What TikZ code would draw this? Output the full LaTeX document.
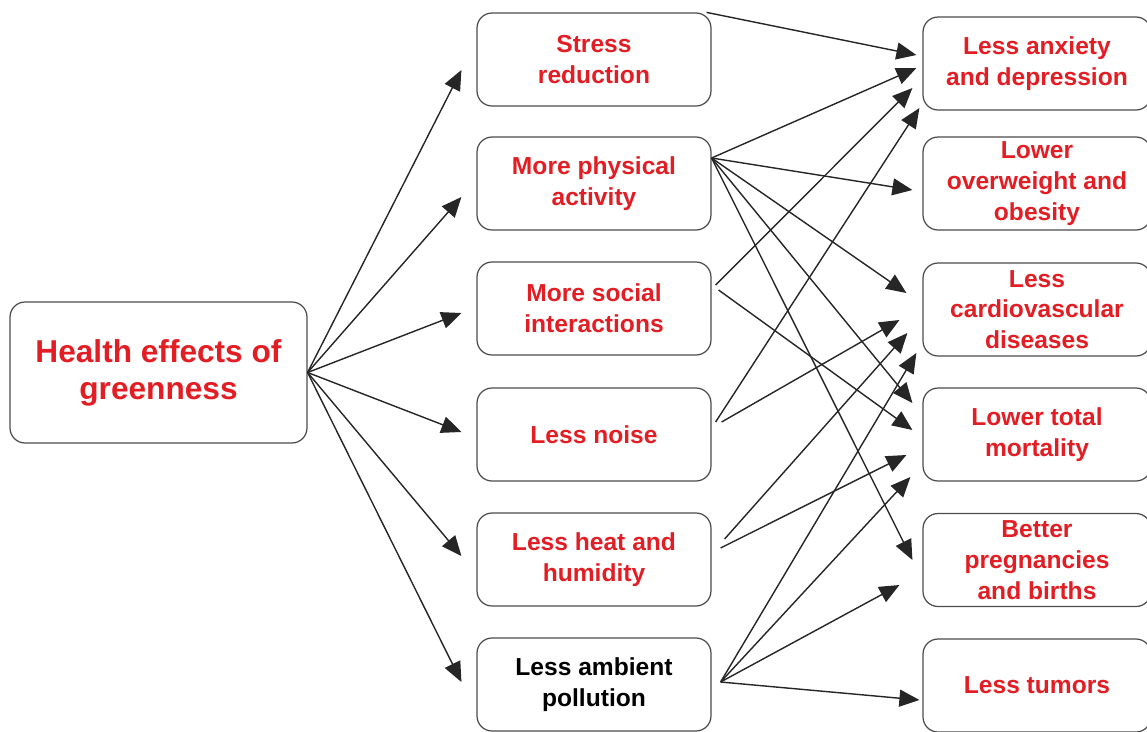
\documentclass[tikz,border=0pt]{standalone}
\usepackage{fontspec}
\setmainfont{Liberation Sans}
\usetikzlibrary{arrows.meta}
\definecolor{effectred}{RGB}{226,30,36}

\begin{document}
\begin{tikzpicture}[x=0.02cm,y=-0.02cm,
  box/.style={draw=black!70,line width=0.7pt,rounded corners=0.3cm,inner sep=0pt,align=center,font=\fontsize{14}{17.5}\selectfont\bfseries,text=effectred},
  mid/.style={box,minimum width=4.68cm,minimum height=1.86cm},
  res/.style={box,minimum width=4.56cm,minimum height=1.86cm},
  arr/.style={line width=0.8pt,draw=black!85,-{Triangle[length=0.4cm,width=0.34cm]}}]
\useasboundingbox (0,0) rectangle (1147,731);

\node[box,minimum width=5.94cm,minimum height=2.82cm,font=\fontsize{18}{21}\selectfont\bfseries] (green) at (158.5,372.5) {Health effects of\\greenness};

\node[mid] (stress) at (594,59.5) {Stress\\reduction};
\node[mid] (phys) at (594,183.5) {More physical\\activity};
\node[mid] (social) at (594,308.5) {More social\\interactions};
\node[mid] (noise) at (594,434.5) {Less noise};
\node[mid] (heat) at (594,559.5) {Less heat and\\humidity};
\node[mid,text=black] (pollution) at (594,684.5) {Less ambient\\pollution};

\node[res] (anxiety) at (1037,63.5) {Less anxiety\\and depression};
\node[res] (obesity) at (1037,183.5) {Lower\\overweight and\\obesity};
\node[res] (cardio) at (1037,309.5) {Less\\cardiovascular\\diseases};
\node[res] (mortality) at (1037,434.5) {Lower total\\mortality};
\node[res] (births) at (1037,560) {Better\\pregnancies\\and births};
\node[res] (tumors) at (1037,685.5) {Less tumors};

% greenness to the pathways
\draw[arr] (green.east) -- ([xshift=-0.3cm,yshift=-0.21cm]stress.west);
\draw[arr] (green.east) -- ([xshift=-0.3cm,yshift=-0.27cm]phys.west);
\draw[arr] (green.east) -- ([xshift=-0.3cm,yshift=-0.09cm]social.west);
\draw[arr] (green.east) -- ([xshift=-0.3cm,yshift=0.05cm]noise.west);
\draw[arr] (green.east) -- ([xshift=-0.3cm,yshift=0.07cm]heat.west);
\draw[arr] (green.east) -- ([xshift=-0.3cm,yshift=0.05cm]pollution.west);

% pathways to the outcomes
\draw[arr] ([xshift=-0.1cm]stress.north east) -- ([xshift=-0.12cm,yshift=0.17cm]anxiety.west);

\draw[arr] ([yshift=0.51cm]phys.east) -- ([xshift=-0.12cm,yshift=-0.09cm]anxiety.west);
\draw[arr] ([yshift=0.51cm]phys.east) -- ([xshift=-0.2cm,yshift=-0.13cm]obesity.west);
\draw[arr] ([yshift=0.51cm]phys.east) -- ([xshift=-0.32cm,yshift=0.33cm]cardio.west);
\draw[arr] ([yshift=0.51cm]phys.east) -- ([xshift=-0.2cm,yshift=0.63cm]mortality.west);
\draw[arr] ([yshift=0.51cm]phys.east) -- ([xshift=-0.2cm]births.west);

\draw[arr] ([xshift=0.08cm,yshift=0.47cm]social.east) -- ([xshift=-0.2cm,yshift=-0.49cm]anxiety.west);
\draw[arr] ([xshift=0.14cm,yshift=0.37cm]social.east) -- ([xshift=-0.2cm,yshift=0.09cm]mortality.west);

\draw[arr] ([xshift=0.08cm,yshift=0.25cm]noise.east) -- ([xshift=-0.06cm,yshift=-0.89cm]anxiety.west);
\draw[arr] ([xshift=0.2cm,yshift=0.25cm]noise.east) -- ([xshift=-0.46cm,yshift=-0.21cm]cardio.west);

\draw[arr] ([xshift=0.26cm,yshift=0.41cm]heat.east) -- ([xshift=-0.3cm,yshift=-0.47cm]cardio.west);
\draw[arr] ([xshift=0.18cm,yshift=0.23cm]heat.east) -- ([xshift=-0.32cm,yshift=-0.41cm]mortality.west);

\draw[arr] ([xshift=0.18cm,yshift=0.05cm]pollution.east) -- ([xshift=-0.12cm,yshift=-0.87cm]cardio.west);
\draw[arr] ([xshift=0.18cm,yshift=0.05cm]pollution.east) -- ([xshift=-0.24cm,yshift=-0.85cm]mortality.west);
\draw[arr] ([xshift=0.18cm,yshift=0.05cm]pollution.east) -- ([xshift=-0.46cm,yshift=-0.5cm]births.west);
\draw[arr] ([xshift=0.18cm,yshift=0.05cm]pollution.east) -- ([xshift=-0.06cm,yshift=-0.29cm]tumors.west);
\end{tikzpicture}
\end{document}
